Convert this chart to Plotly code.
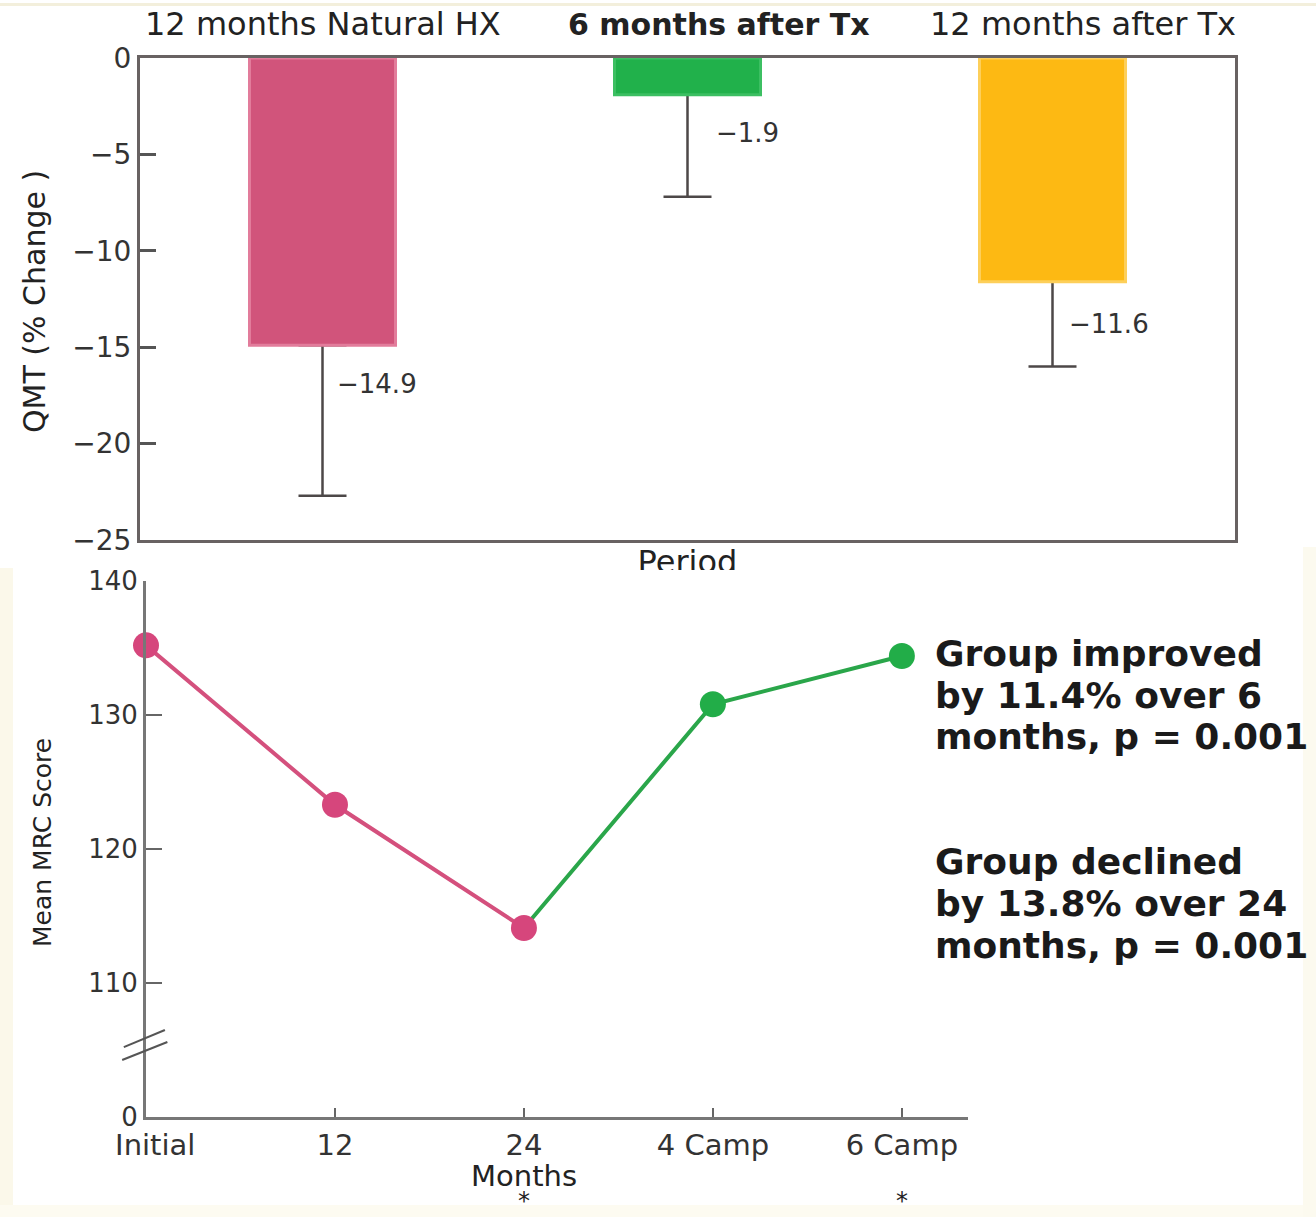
import plotly.graph_objects as go

# ---------------- data ----------------
periods = ["12 months Natural HX", "6 months after Tx", "12 months after Tx"]
qmt_change = [-14.9, -1.9, -11.6]
qmt_err_minus = [7.8, 5.3, 4.4]
bar_colors = ["#d1547b", "#21b14b", "#fdb913"]
bar_edges = ["#e27c9b", "#3cbf62", "#fdcf5a"]

months = ["Initial", "12", "24", "4 Camp", "6 Camp"]
mrc_score = [135.2, 123.3, 114.1, 130.8, 134.4]
mrc_ticks = [100, 110, 120, 130, 140]
mrc_ticktext = ["0", "110", "120", "130", "140"]
qmt_ticks = [0, -5, -10, -15, -20, -25]

note_improved = ["Group improved", "by 11.4% over 6", "months, p = 0.001"]
note_declined = ["Group declined", "by 13.8% over 24", "months, p = 0.001"]

# ---------------- layout helpers ----------------
W, H = 1316, 1217
def px(x):
    return x / W
def py(y):
    return 1 - y / H

FONT = "DejaVu Sans"
TXT = "#222222"
pos = list(range(len(months)))

fig = go.Figure()

# top chart: bars with lower error whiskers
fig.add_trace(go.Bar(
    x=periods, y=qmt_change, width=0.4,
    marker=dict(color=bar_colors, line=dict(width=0)),
    error_y=dict(type="data", symmetric=False, array=[0] * len(periods),
                 arrayminus=qmt_err_minus, color="#4d4848", thickness=2.5, width=24),
    xaxis="x", yaxis="y", hoverinfo="skip"))
fig.add_trace(go.Bar(
    x=periods, y=qmt_change, width=0.4,
    marker=dict(color=bar_colors, line=dict(width=3, color=bar_edges)),
    xaxis="x", yaxis="y", hoverinfo="skip"))

# bottom chart: lines
fig.add_trace(go.Scatter(x=pos[2:], y=mrc_score[2:], mode="lines",
                         line=dict(color="#2aa64a", width=4),
                         xaxis="x2", yaxis="y2", cliponaxis=False))
fig.add_trace(go.Scatter(x=pos[3:], y=mrc_score[3:], mode="markers",
                         marker=dict(size=26, color="#22ad48"),
                         xaxis="x2", yaxis="y2", cliponaxis=False))
fig.add_trace(go.Scatter(x=pos[:3], y=mrc_score[:3], mode="lines+markers",
                         line=dict(color="#d4507d", width=4),
                         marker=dict(size=26, color="#d6467c"),
                         xaxis="x2", yaxis="y2", cliponaxis=False))

# clipped "Period" axis title (partly hidden under the lower chart)
fig.add_trace(go.Scatter(x=[0.5], y=[0.22], mode="text", text=["Period"],
                         textposition="middle center",
                         textfont=dict(size=32, color=TXT, family=FONT),
                         xaxis="x3", yaxis="y3", cliponaxis=True, hoverinfo="skip"))

annotations = []
# top category labels
cat_xshift = [0, 31, 30]
for i, p in enumerate(periods):
    bold = (i == 1)
    annotations.append(dict(
        x=p, xref="x", y=py(24), yref="paper", yanchor="middle",
        text=("<b>%s</b>" % p) if bold else p, showarrow=False,
        xshift=cat_xshift[i],
        font=dict(size=30 if bold else 32, color=TXT, family=FONT)))
# value labels
lab_xshift = [12, 26, 14]
lab_yshift = [-39, -38, -42]
for i, p in enumerate(periods):
    annotations.append(dict(
        x=p, xref="x", y=qmt_change[i], yref="y", xanchor="left", yanchor="middle",
        text=("%.1f" % qmt_change[i]).replace("-", "\u2212"), showarrow=False,
        xshift=lab_xshift[i], yshift=lab_yshift[i],
        font=dict(size=26, color="#333333", family=FONT)))
# axis titles
annotations.append(dict(x=px(34), y=py(302), xref="paper", yref="paper",
                        xanchor="center", yanchor="middle",
                        text="QMT (% Change )", textangle=-90, showarrow=False,
                        font=dict(size=30, color=TXT, family=FONT)))
annotations.append(dict(x=px(42), y=py(843), xref="paper", yref="paper",
                        xanchor="center", yanchor="middle",
                        text="Mean MRC Score", textangle=-90, showarrow=False,
                        font=dict(size=25, color=TXT, family=FONT)))
annotations.append(dict(x=2, xref="x2", y=py(1176), yref="paper", yanchor="middle",
                        text="Months", showarrow=False,
                        font=dict(size=29, color=TXT, family=FONT)))
for xi in (2, 4):
    annotations.append(dict(x=xi, xref="x2", y=py(1201), yref="paper", yanchor="middle",
                            text="*", showarrow=False,
                            font=dict(size=24, color=TXT, family=FONT)))
# notes, one line at a time
for lines, top in ((note_improved, 653), (note_declined, 861)):
    for k, line in enumerate(lines):
        annotations.append(dict(x=px(933), y=py(top + 42 * k), xref="paper", yref="paper",
                                xanchor="left", yanchor="middle", align="left",
                                text="<b>%s</b>" % line, showarrow=False,
                                font=dict(size=36, color="#1a1a1a", family=FONT)))

shapes = [
    # faint cream edges of the pasted picture
    dict(type="rect", xref="paper", yref="paper", x0=0, x1=1, y0=py(6), y1=py(3),
         fillcolor="#f3efdc", line=dict(width=0), layer="below"),
    dict(type="rect", xref="paper", yref="paper", x0=0, x1=px(13), y0=0, y1=py(568),
         fillcolor="#fbf8ea", line=dict(width=0), layer="below"),
    dict(type="rect", xref="paper", yref="paper", x0=0, x1=1, y0=0, y1=py(1205),
         fillcolor="#fdfbf1", line=dict(width=0), layer="below"),
    dict(type="rect", xref="paper", yref="paper", x0=px(1303), x1=1, y0=0, y1=py(547),
         fillcolor="#fcfaef", line=dict(width=0), layer="below"),
    # axis-break marks on the lower y axis
    dict(type="line", xref="x2 domain", yref="y2", x0=-0.027, y0=105.22, x1=0.023, y1=106.49,
         line=dict(color="#555555", width=2)),
    dict(type="line", xref="x2 domain", yref="y2", x0=-0.029, y0=104.25, x1=0.026, y1=105.6,
         line=dict(color="#555555", width=2)),
]

fig.update_layout(
    width=W, height=H, autosize=False,
    margin=dict(l=0, r=0, t=0, b=0, pad=0, autoexpand=False),
    paper_bgcolor="white", plot_bgcolor="rgba(0,0,0,0)",
    showlegend=False, barmode="overlay",
    font=dict(family=FONT, color=TXT),
    annotations=annotations, shapes=shapes,
    xaxis=dict(domain=[px(140), px(1235)], anchor="y", type="category", automargin=False,
               range=[-0.5, 2.5], showline=True, linecolor="#686262", linewidth=3,
               mirror=True, ticks="", showticklabels=False, showgrid=False, zeroline=False),
    yaxis=dict(domain=[py(540), py(58)], anchor="x", range=[-25, 0], automargin=False,
               tickvals=qmt_ticks, ticks="inside", ticklen=16, tickwidth=2.5,
               tickcolor="#555555", showline=True, linecolor="#686262", linewidth=3,
               mirror=True, showgrid=False, zeroline=False,
               tickfont=dict(size=28, color="#333333", family=FONT)),
    xaxis2=dict(domain=[px(146), px(968)], anchor="y2", range=[0, 4.35], automargin=False,
                tickvals=pos, ticktext=["\u00a0\u00a0" + months[0]] + months[1:],
                ticks="inside", ticklen=9, tickwidth=2, tickcolor="#666666",
                showline=True, linecolor="#777777", linewidth=3,
                showgrid=False, zeroline=False,
                tickfont=dict(size=29, color="#333333", family=FONT)),
    yaxis2=dict(domain=[py(1117), py(581)], anchor="x2", range=[100, 140], automargin=False,
                tickvals=mrc_ticks, ticktext=mrc_ticktext,
                ticks="inside", ticklen=16, tickwidth=2, tickcolor="#666666",
                showline=True, linecolor="#777777", linewidth=3,
                showgrid=False, zeroline=False,
                tickfont=dict(size=26, color="#333333", family=FONT)),
    xaxis3=dict(domain=[px(140), px(1235)], anchor="y3", range=[0, 1], visible=False,
                automargin=False),
    yaxis3=dict(domain=[py(570), py(545)], anchor="x3", range=[0, 1], visible=False,
                automargin=False),
)

fig.write_html("out.html", config={"displayModeBar": False},
               post_script="document.body.style.margin='0';")
